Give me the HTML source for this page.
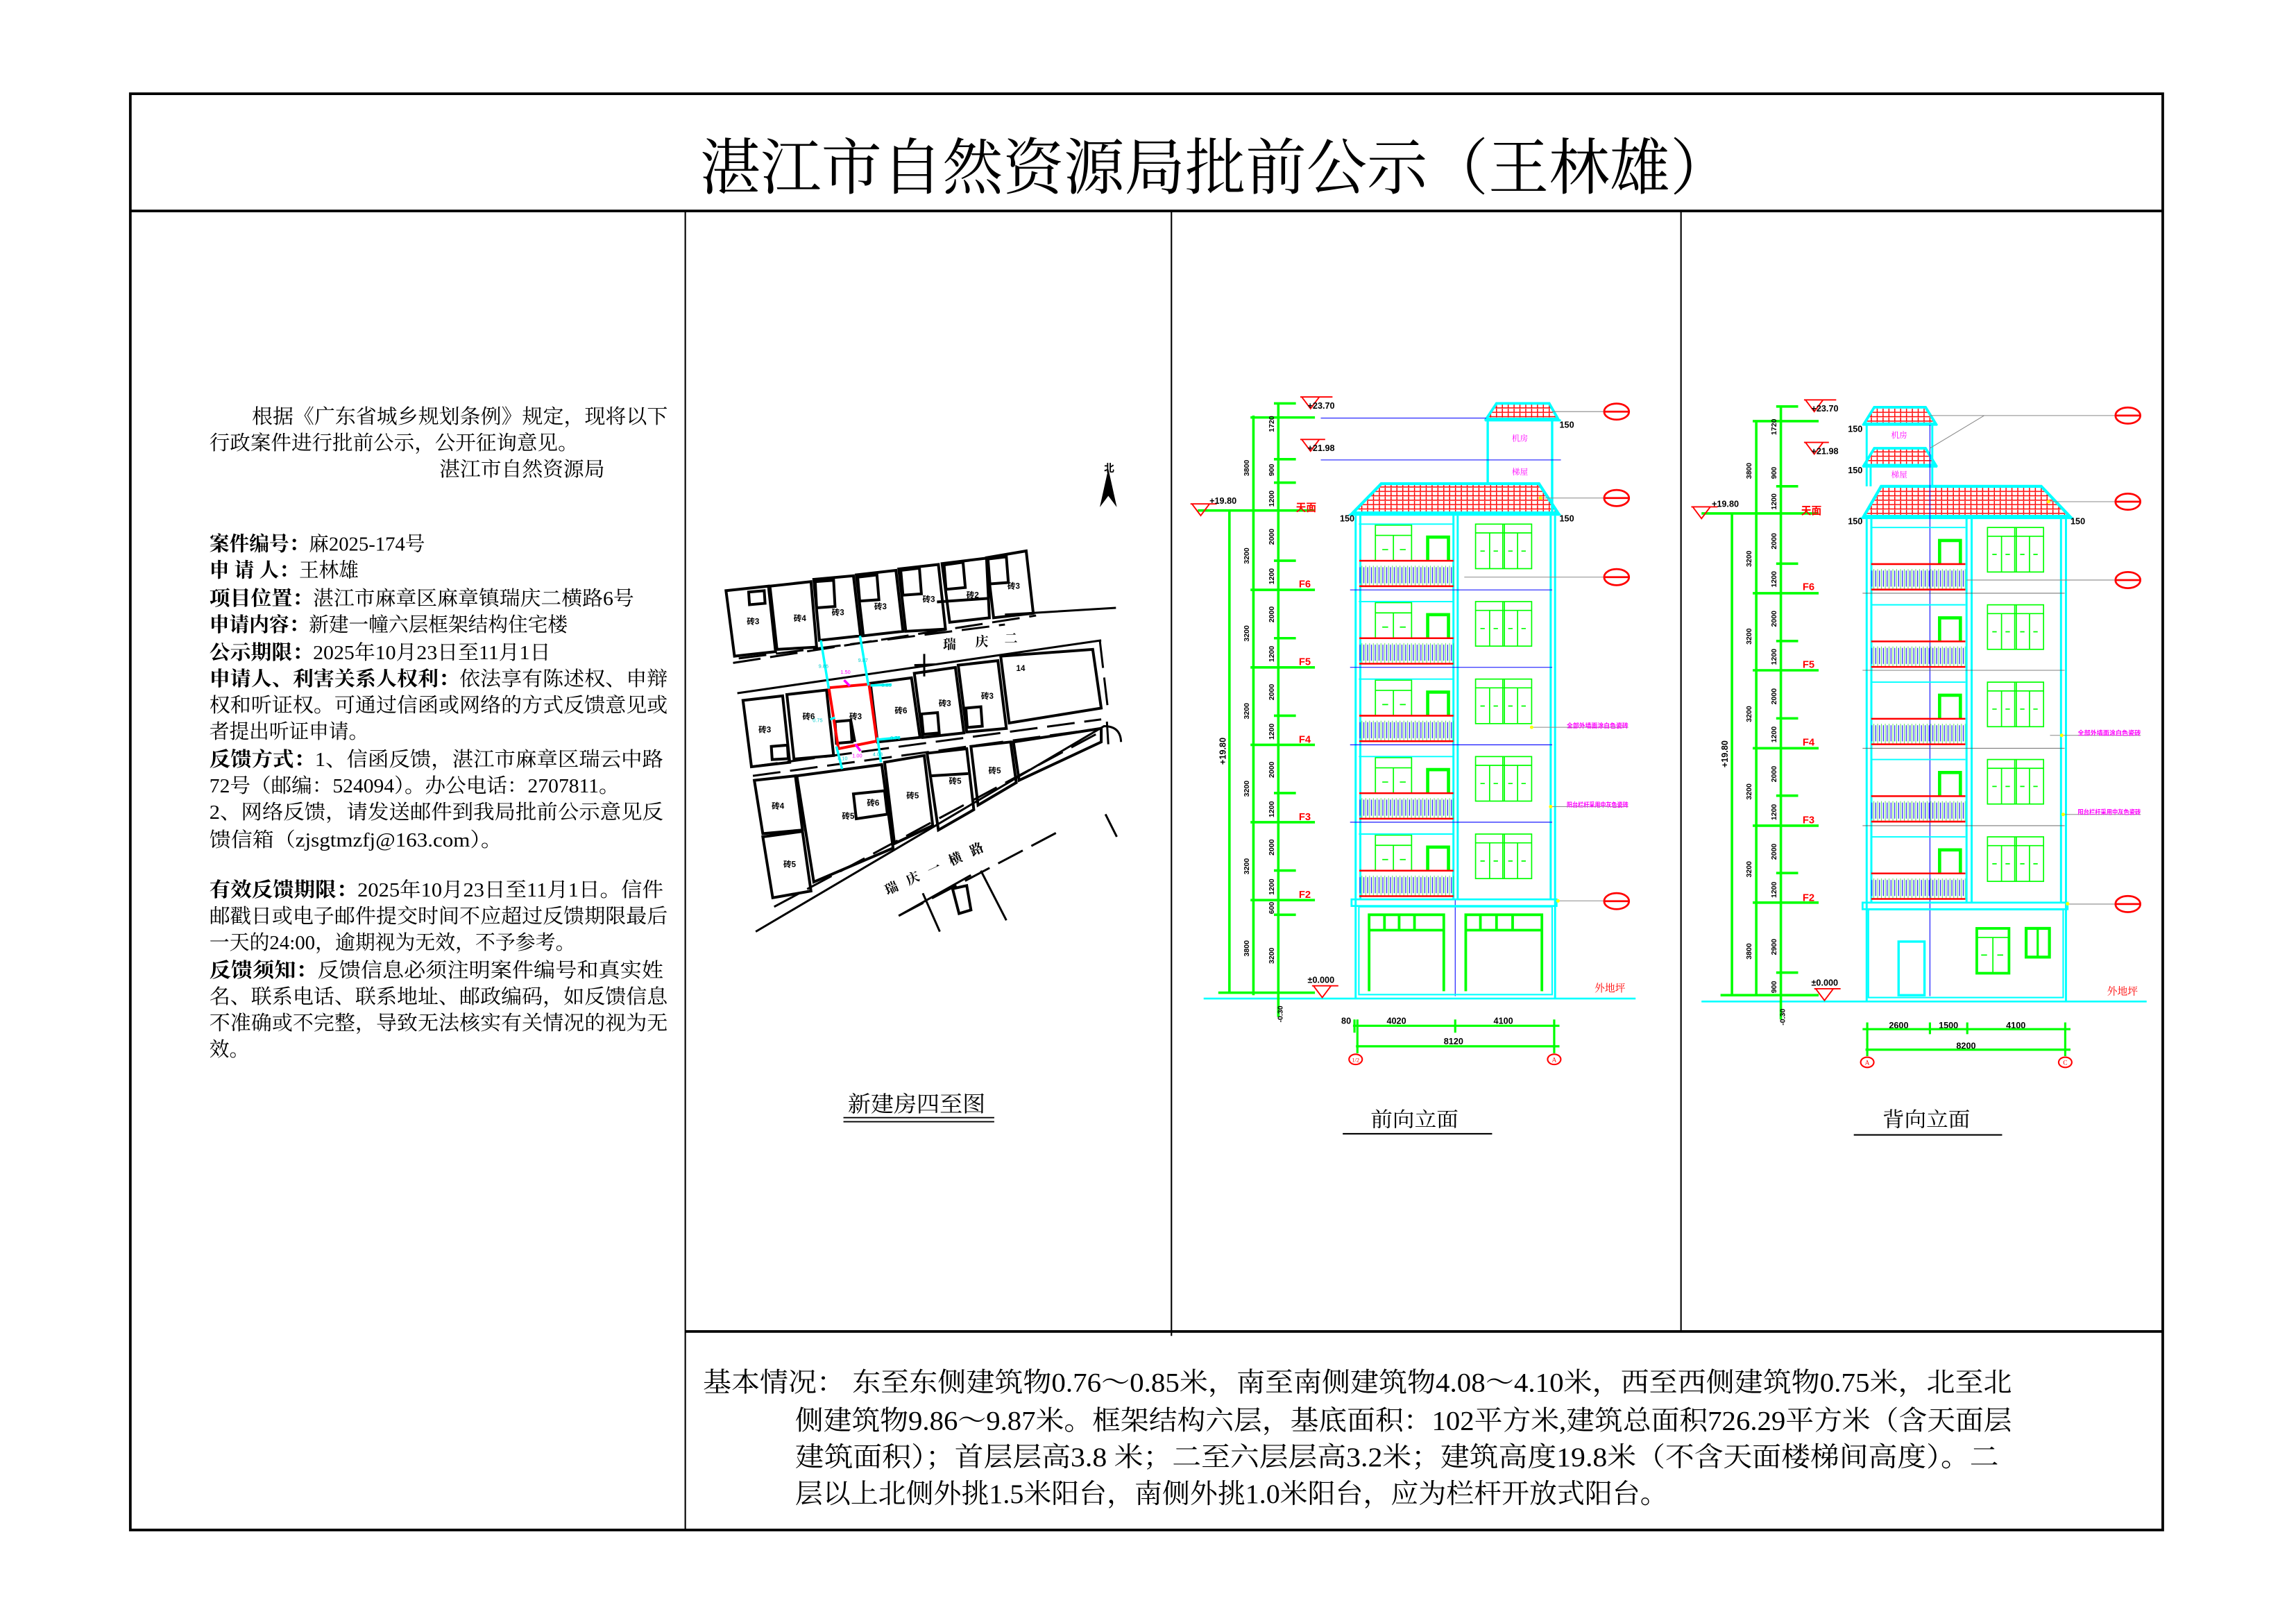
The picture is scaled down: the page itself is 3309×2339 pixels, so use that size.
<!DOCTYPE html>
<html><head><meta charset="utf-8"><style>
html,body{margin:0;padding:0;background:#fff;}
svg{display:block;}
.s{font-family:"Liberation Serif","Noto Serif CJK SC",serif;}
.a{font-family:"Liberation Sans","Noto Sans CJK SC",sans-serif;font-weight:bold;}
</style></head><body>
<svg width="3309" height="2339" viewBox="0 0 1568 1108" preserveAspectRatio="none" xmlns="http://www.w3.org/2000/svg">
<defs>
<pattern id="roof" width="4" height="3" patternUnits="userSpaceOnUse"><path d="M0 2.5H4M2 0V2.5" stroke="#f00" stroke-width="0.7" fill="none"/></pattern>
<pattern id="rail" width="2.6" height="17" patternUnits="userSpaceOnUse"><path d="M0.6 3V14" stroke="#00f" stroke-width="0.5"/><path d="M1.9 2V16" stroke="#0c0" stroke-width="0.3"/></pattern>
<g id="lw">
 <rect x="939.3" y="8.3" width="24.7" height="24.3" fill="none" stroke="#0f0" stroke-width="0.8"/>
 <path d="M939.3 15.3H964M951.6 15.3V32.6M944 25h4M956 25h4" stroke="#0f0" stroke-width="0.8" fill="none"/>
</g>
<g id="fc">
 <line x1="928" y1="7.6" x2="992.6" y2="7.6" stroke="#0ff" stroke-width="0.9"/>
 <path d="M975 32.6V16.5H989.2V32.6" stroke="#0f0" stroke-width="2.2" fill="none"/>
 <rect x="928.3" y="33" width="64.3" height="17" fill="url(#rail)"/>
 <path d="M928.3 32.6H992.6M928.3 50H992.6" stroke="#f00" stroke-width="1.2"/>
 <rect x="1007.7" y="7.6" width="38.3" height="30.4" fill="none" stroke="#0f0" stroke-width="0.8"/>
 <path d="M1007.7 13.6H1046M1017.3 13.6V38M1026.3 7.6V38M1027.4 7.6V38M1036.4 13.6V38M1011 26h3M1020 26h3M1030 26h3M1039 26h3" stroke="#0f0" stroke-width="0.8" fill="none"/>
</g>
</defs>

<!-- frame -->
<g stroke="#000" fill="none">
<rect x="89" y="64" width="1388" height="980.5" stroke-width="1.8"/>
<line x1="89" y1="144" x2="1477" y2="144" stroke-width="1.8"/>
<line x1="468" y1="144" x2="468" y2="1044.5" stroke-width="1"/>
<line x1="800" y1="144" x2="800" y2="912" stroke-width="1"/>
<line x1="1148" y1="144" x2="1148" y2="909" stroke-width="1"/>
<line x1="468" y1="909" x2="1477" y2="909" stroke-width="1.8"/>
</g>
<text class="s" x="478" y="129" font-size="42" textLength="704" lengthAdjust="spacingAndGlyphs">湛江市自然资源局批前公示（王林雄）</text>

<!-- left text -->
<g class="s" font-size="13.6" fill="#000">
<text x="172" y="289" textLength="284" lengthAdjust="spacingAndGlyphs">根据《广东省城乡规划条例》规定，现将以下</text>
<text x="143" y="307" textLength="252" lengthAdjust="spacingAndGlyphs">行政案件进行批前公示，公开征询意见。</text>
<text x="300" y="325" textLength="113" lengthAdjust="spacingAndGlyphs">湛江市自然资源局</text>
<text x="143" y="376"><tspan font-weight="bold">案件编号：</tspan>麻2025-174号</text>
<text x="143" y="394"><tspan font-weight="bold">申 请 人：</tspan>王林雄</text>
<text x="143" y="413" textLength="290" lengthAdjust="spacingAndGlyphs"><tspan font-weight="bold">项目位置：</tspan>湛江市麻章区麻章镇瑞庆二横路6号</text>
<text x="143" y="431"><tspan font-weight="bold">申请内容：</tspan>新建一幢六层框架结构住宅楼</text>
<text x="143" y="450" textLength="233" lengthAdjust="spacingAndGlyphs"><tspan font-weight="bold">公示期限：</tspan>2025年10月23日至11月1日</text>
<text x="143" y="468" textLength="313" lengthAdjust="spacingAndGlyphs"><tspan font-weight="bold">申请人、利害关系人权利：</tspan>依法享有陈述权、申辩</text>
<text x="143" y="486" textLength="313" lengthAdjust="spacingAndGlyphs">权和听证权。可通过信函或网络的方式反馈意见或</text>
<text x="143" y="504">者提出听证申请。</text>
<text x="143" y="523" textLength="310" lengthAdjust="spacingAndGlyphs"><tspan font-weight="bold">反馈方式：</tspan>1、信函反馈，湛江市麻章区瑞云中路</text>
<text x="143" y="541" textLength="280" lengthAdjust="spacingAndGlyphs">72号（邮编：524094）。办公电话：2707811。</text>
<text x="143" y="559" textLength="310" lengthAdjust="spacingAndGlyphs">2、网络反馈，请发送邮件到我局批前公示意见反</text>
<text x="143" y="578" textLength="200" lengthAdjust="spacingAndGlyphs">馈信箱（zjsgtmzfj@163.com）。</text>
<text x="143" y="612" textLength="310" lengthAdjust="spacingAndGlyphs"><tspan font-weight="bold">有效反馈期限：</tspan>2025年10月23日至11月1日。信件</text>
<text x="143" y="630" textLength="313" lengthAdjust="spacingAndGlyphs">邮戳日或电子邮件提交时间不应超过反馈期限最后</text>
<text x="143" y="648" textLength="250" lengthAdjust="spacingAndGlyphs">一天的24:00，逾期视为无效，不予参考。</text>
<text x="143" y="667" textLength="310" lengthAdjust="spacingAndGlyphs"><tspan font-weight="bold">反馈须知：</tspan>反馈信息必须注明案件编号和真实姓</text>
<text x="143" y="685" textLength="313" lengthAdjust="spacingAndGlyphs">名、联系电话、联系地址、邮政编码，如反馈信息</text>
<text x="143" y="703" textLength="313" lengthAdjust="spacingAndGlyphs">不准确或不完整，导致无法核实有关情况的视为无</text>
<text x="143" y="721">效。</text>
</g>

<!-- bottom text -->
<g class="s" font-size="18.5" fill="#000">
<text x="480" y="950" textLength="894" lengthAdjust="spacingAndGlyphs">基本情况：  东至东侧建筑物0.76～0.85米，南至南侧建筑物4.08～4.10米，西至西侧建筑物0.75米，北至北</text>
<text x="543" y="976" textLength="831" lengthAdjust="spacingAndGlyphs">侧建筑物9.86～9.87米。框架结构六层，基底面积：102平方米,建筑总面积726.29平方米（含天面层</text>
<text x="543" y="1001" textLength="822" lengthAdjust="spacingAndGlyphs">建筑面积）；首层层高3.8 米；二至六层层高3.2米；建筑高度19.8米（不含天面楼梯间高度）。二</text>
<text x="543" y="1026" textLength="596" lengthAdjust="spacingAndGlyphs">层以上北侧外挑1.5米阳台，南侧外挑1.0米阳台，应为栏杆开放式阳台。</text>
</g>

<!-- site plan -->
<g transform="translate(492.9,293.8) scale(0.1934,0.3083)" fill="none" stroke="#000" stroke-width="4">
<path vector-effect="non-scaling-stroke" d="M15 355L165 345L190 490L45 500Z M95 358L150 355L153 383L98 386Z M170 345L315 335L335 480L195 485Z M325 330L465 322L490 455L345 465Z M330 335L395 332L400 390L335 393Z M475 320L615 310L640 445L500 455Z M480 325L548 320L555 375L487 378Z M625 307L765 297L790 440L650 445Z M632 310L698 305L705 362L640 365Z M778 295L935 283L945 415L805 425Z M785 298L852 292L860 348L792 352Z M760 380L940 372 M935 282L1075 267L1100 405L960 415Z M940 285L1005 280L1012 337L947 340Z"/>
<path vector-effect="non-scaling-stroke" d="M75 598L215 588L240 735L105 745Z M175 700L232 697L235 727L178 729Z M230 585L370 575L395 720L255 728Z M525 560L670 548L700 680L550 690Z M680 538L825 525L855 670L710 680Z M705 628L762 625L768 670L712 673Z M835 520L975 510L1005 660L865 668Z M862 615L915 612L920 655L867 658Z M985 500L1310 485L1340 615L1015 648Z M400 645L455 642L460 690L405 693Z M455 640L470 690"/>
<path vector-effect="non-scaling-stroke" d="M115 775L260 765L285 885L145 893Z M145 900L285 888L315 1020L180 1035Z M265 765L565 740L605 925L325 1000Z M465 805L575 798L585 850L475 860Z M575 735L715 720L745 875L610 915Z M725 715L865 705L890 840L765 885Z M738 765L870 760 M880 700L1020 690L1040 780L905 830Z M1030 690L1340 660L1340 690L1050 775Z"/>
<path vector-effect="non-scaling-stroke" stroke-width="3" d="M1000 408L1392 393 M55 582L1340 465 M120 1110L1350 655 Q1408 655 1410 690 M710 1025L770 1110 M915 975L1005 1085 M1355 850L1395 900 M680 520L760 518 M715 495L715 545"/>
<path vector-effect="non-scaling-stroke" stroke-width="3" stroke-dasharray="40,14" d="M40 515L1110 410 M110 765L1340 660 M60 505L1000 430 M1335 465L1365 625 M1360 645L1365 695 M185 1055L1330 670 M625 1075L1200 885 M100 745L1340 640"/>
<path vector-effect="non-scaling-stroke" stroke-width="3" d="M625 1075L880 985"/>
<path vector-effect="non-scaling-stroke" d="M815 1015L865 1008L880 1062L838 1070Z"/>
<path vector-effect="non-scaling-stroke" stroke="#f00" stroke-width="4" d="M378 570L520 562L548 688L412 705Z"/>
<path vector-effect="non-scaling-stroke" stroke="#0ff" stroke-width="3.5" d="M350 465L378 572 M488 455L518 565 M405 700L425 750 M550 680L562 735 M383 640L400 636 M525 565L600 563 M548 685L630 680"/>
<path vector-effect="non-scaling-stroke" stroke="#f0f" stroke-width="3.5" d="M432 553L452 566 M472 695L490 710"/>
<path d="M1365 85L1395 170L1365 145L1335 170Z" fill="#000" stroke="none"/>
</g>
<g class="a" font-size="5.5" fill="#000">
<text x="510" y="426">砖3</text><text x="542" y="424">砖4</text><text x="568" y="420">砖3</text><text x="597" y="416">砖3</text><text x="630" y="411">砖3</text><text x="660" y="408">砖2</text><text x="688" y="402">砖3</text>
<text x="518" y="500">砖3</text><text x="548" y="491">砖6</text><text x="580" y="491">砖3</text><text x="611" y="487">砖6</text><text x="641" y="482">砖3</text><text x="670" y="477">砖3</text><text x="694" y="458">14</text>
<text x="527" y="552">砖4</text><text x="575" y="559">砖5</text><text x="592" y="550">砖6</text><text x="619" y="545">砖5</text><text x="648" y="535">砖5</text><text x="675" y="528">砖5</text><text x="535" y="592">砖5</text>
<text x="754" y="322" font-size="7">北</text>
</g>
<g class="s" font-size="9" fill="#000" font-weight="bold">
<text x="644" y="443">瑞</text><text x="666" y="441">庆</text><text x="686" y="439">二</text>
<text transform="translate(606,611) rotate(-24.6)" letter-spacing="7">瑞庆一横路</text>
</g>
<g font-family="Liberation Sans,sans-serif" font-size="3.5" fill="#0cc">
<text x="559" y="456">9.86</text><text x="586" y="452">9.87</text><text x="555" y="493">0.75</text><text x="602" y="469">0.85</text><text x="608" y="505">0.76</text><text x="572" y="519">4.10</text><text x="596" y="516">4.08</text>
</g>
<g font-family="Liberation Sans,sans-serif" font-size="3.5" fill="#f0f"><text x="574" y="460">1.50</text><text x="582" y="517">1.00</text></g>
<text class="s" x="626" y="759" font-size="15" text-anchor="middle" textLength="94" lengthAdjust="spacingAndGlyphs">新建房四至图</text>
<path d="M576 763H679M576 765.8H679" stroke="#000" stroke-width="0.9"/>

<!-- FRONT ELEVATION -->
<g>
<line x1="822" y1="681.7" x2="1117" y2="681.7" stroke="#0ff" stroke-width="1.2"/>
<path d="M923.8 350.2L943.3 330.2H1051L1064 350.2Z" fill="url(#roof)" stroke="#0ff" stroke-width="2"/>
<line x1="921" y1="351.5" x2="1066" y2="351.5" stroke="#0ff" stroke-width="1.2"/>
<path d="M1016 330V286M1060 350V286" stroke="#0ff" stroke-width="1.6" fill="none"/>
<path d="M1015 286L1022 275.4H1058L1064 286Z" fill="url(#roof)" stroke="#0ff" stroke-width="1.8"/>
<line x1="1014" y1="287" x2="1066" y2="287" stroke="#0ff" stroke-width="1.4"/>
<line x1="902" y1="285.4" x2="1015" y2="285.4" stroke="#00f" stroke-width="0.5"/>
<line x1="902" y1="314" x2="1066" y2="314" stroke="#00f" stroke-width="0.5"/>
<text x="1038" y="301" font-size="5.5" fill="#f0f" text-anchor="middle" class="s">机房</text>
<text x="1038" y="324" font-size="5.5" fill="#f0f" text-anchor="middle" class="s">梯屋</text>
<path d="M925.8 352V681.7M929 352V614M1062 352V681.7M1059 352V614M992.6 352V614M995.5 352V614" stroke="#0ff" stroke-width="1.4" fill="none"/>
<line x1="993.8" y1="614" x2="993.8" y2="680" stroke="#00f" stroke-width="0.5"/>
<g transform="translate(0,350.2)"><use href="#lw"/><use href="#fc"/></g>
<g transform="translate(0,403.1)"><use href="#lw"/><use href="#fc"/></g>
<g transform="translate(0,456)"><use href="#lw"/><use href="#fc"/></g>
<g transform="translate(0,508.9)"><use href="#lw"/><use href="#fc"/></g>
<g transform="translate(0,561.8)"><use href="#lw"/><use href="#fc"/></g>
<path d="M922 402.7H1060M922 455.6H1060M922 508.5H1060M922 561.3H1060" stroke="#00f" stroke-width="0.5"/>
<rect x="923" y="614" width="140" height="4.5" fill="none" stroke="#0ff" stroke-width="1.3"/>
<rect x="928" y="619" width="132" height="60" fill="none" stroke="#0ff" stroke-width="1"/>
<path d="M935 676.7V624.5H986V676.7M935 635H986M945.5 624.5V635M955.5 624.5V635M966 624.5V635" stroke="#0f0" stroke-width="1.8" fill="none"/>
<path d="M1001 676.7V624.5H1053V676.7M1001 635H1053M1011 624.5V635M1022 624.5V635M1033 624.5V635" stroke="#0f0" stroke-width="1.8" fill="none"/>
<g stroke="#0f0" stroke-width="1.7" fill="none">
<path d="M839.6 348.5V677.7M856 283.7V679.4M873 275.4V694.3"/>
<path d="M818 348.5H898M854 285H898M854 402.7H898M854 455.6H898M854 508.5H898M854 561.3H898M854 614.5H898M832 677.7H898"/>
<path d="M870 275.4H885M870 313.5H885M870 329.5H885M870 382.8H885M870 435.7H885M870 488.6H885M870 541.4H885M870 594.3H885M870 624.5H885"/>
</g>
<g stroke="#f00" stroke-width="0.9" fill="none">
<path d="M888 271H910M889 271L895 279L901 271M888 300H905M889 300L895 308L901 300M813 344H831M814 344L820 352L826 344M896 673H914M897 673L903 681L909 673"/>
</g>
<g class="a" font-size="6" fill="#000">
<text x="893" y="279">+23.70</text><text x="893" y="308">+21.98</text><text x="826" y="344">+19.80</text><text x="893" y="671">±0.000</text><text x="915" y="356">150</text><text x="1065" y="356">150</text><text x="1065" y="292">150</text>
<text x="916" y="699">80</text><text x="947" y="699">4020</text><text x="1020" y="699">4100</text><text x="986" y="713">8120</text>
</g>
<g class="a" font-size="5" fill="#000">
<text transform="translate(870,295) rotate(-90)">1720</text><text transform="translate(870,325) rotate(-90)">900</text><text transform="translate(870,346) rotate(-90)">1200</text>
<text transform="translate(870,372) rotate(-90)">2000</text><text transform="translate(870,399) rotate(-90)">1200</text>
<text transform="translate(870,425) rotate(-90)">2000</text><text transform="translate(870,452) rotate(-90)">1200</text>
<text transform="translate(870,478) rotate(-90)">2000</text><text transform="translate(870,505) rotate(-90)">1200</text>
<text transform="translate(870,531) rotate(-90)">2000</text><text transform="translate(870,558) rotate(-90)">1200</text>
<text transform="translate(870,584) rotate(-90)">2000</text><text transform="translate(870,611) rotate(-90)">1200</text><text transform="translate(870,624) rotate(-90)">600</text>
<text transform="translate(870,658) rotate(-90)">3200</text><text transform="translate(876,698) rotate(-90)">-0.30</text>
<text transform="translate(853,325) rotate(-90)">3800</text><text transform="translate(853,385) rotate(-90)">3200</text><text transform="translate(853,438) rotate(-90)">3200</text><text transform="translate(853,491) rotate(-90)">3200</text><text transform="translate(853,544) rotate(-90)">3200</text><text transform="translate(853,597) rotate(-90)">3200</text><text transform="translate(853,653) rotate(-90)">3800</text>
<text transform="translate(837,522) rotate(-90)" font-size="6">+19.80</text>
</g>
<g class="a" font-size="7" fill="#f00">
<text x="885" y="349">天面</text><text x="887" y="401">F6</text><text x="887" y="454">F5</text><text x="887" y="507">F4</text><text x="887" y="560">F3</text><text x="887" y="613">F2</text>
</g>
<text x="1089" y="677" font-size="7" fill="#f00" class="s">外地坪</text>
<g stroke="#0f0" stroke-width="1.5"><path d="M924 700.3H1065M926 714.3H1065M927 696V719M993.8 696V705M1061.4 696V719M925 696V705"/></g>
<g fill="none" stroke="#f00" stroke-width="1"><ellipse cx="925.8" cy="723.2" rx="4.5" ry="3.5"/><ellipse cx="1061.4" cy="723.2" rx="4.5" ry="3.5"/></g>
<text x="925.8" y="725" font-size="4" fill="#f00" text-anchor="middle">1/2</text><text x="1061.4" y="725" font-size="4.5" fill="#f00" text-anchor="middle">A</text>
<g stroke="#888" stroke-width="0.5"><path d="M1060 281H1095M1050 340H1095M1000 394H1095M1064 615H1095M1046 496.5H1112M1060 550.7H1112"/></g>
<g fill="none" stroke="#f00" stroke-width="1.3">
<ellipse cx="1104" cy="281" rx="8.5" ry="5.5"/><ellipse cx="1104" cy="340" rx="8.5" ry="5.5"/><ellipse cx="1104" cy="394" rx="8.5" ry="5.5"/><ellipse cx="1104" cy="615.2" rx="8.5" ry="5.5"/>
<path d="M1095.5 281H1112.5M1095.5 340H1112.5M1095.5 394H1112.5M1095.5 615.2H1112.5"/>
</g>
<g fill="#ff0"><circle cx="1046" cy="496.5" r="1.2"/><circle cx="1059" cy="550.7" r="1.2"/><circle cx="1064" cy="615" r="1.2"/><circle cx="1052" cy="340" r="1.2"/></g>
<g class="a" font-size="4.3" fill="#f0f"><text x="1070" y="497" textLength="42" lengthAdjust="spacingAndGlyphs">全部外墙面涂白色瓷砖</text><text x="1070" y="551" textLength="42" lengthAdjust="spacingAndGlyphs">阳台栏杆采用中灰色瓷砖</text></g>
<text class="s" x="966" y="769" font-size="14" text-anchor="middle" textLength="60" lengthAdjust="spacingAndGlyphs">前向立面</text>
<line x1="917" y1="774" x2="1019" y2="774" stroke="#000" stroke-width="1"/>
</g>

<!-- BACK ELEVATION -->
<g>
<line x1="1162" y1="683.7" x2="1466" y2="683.7" stroke="#0ff" stroke-width="1.2"/>
<path d="M1272.8 352.5L1284.7 332H1394L1413.5 352.5Z" fill="url(#roof)" stroke="#0ff" stroke-width="2"/>
<line x1="1270" y1="353.8" x2="1416" y2="353.8" stroke="#0ff" stroke-width="1.2"/>
<path d="M1274.8 289V332M1319.6 289V332M1277.5 317.6V332" stroke="#0ff" stroke-width="1.4" fill="none"/>
<path d="M1273 289.3L1280 278H1315L1322 289.3Z" fill="url(#roof)" stroke="#0ff" stroke-width="1.8"/>
<line x1="1272" y1="290" x2="1323" y2="290" stroke="#0ff" stroke-width="1.4"/>
<path d="M1273 317.6L1280 306H1315L1322 317.6Z" fill="url(#roof)" stroke="#0ff" stroke-width="1.8"/>
<line x1="1272" y1="318.5" x2="1323" y2="318.5" stroke="#0ff" stroke-width="1.4"/>
<text x="1297" y="299" font-size="5.5" fill="#f0f" text-anchor="middle" class="s">机房</text>
<text x="1297" y="326" font-size="5.5" fill="#f0f" text-anchor="middle" class="s">梯屋</text>
<path d="M1274.8 354V683.7M1278 354V616M1410.9 354V683.7M1407.5 354V616M1343 354V616M1346.5 354V616" stroke="#0ff" stroke-width="1.4" fill="none"/>
<line x1="1318" y1="290" x2="1318" y2="680" stroke="#00f" stroke-width="0.5"/>
<g transform="translate(349.6,352.5)"><use href="#fc"/></g>
<g transform="translate(349.6,405.3)"><use href="#fc"/></g>
<g transform="translate(349.6,458.1)"><use href="#fc"/></g>
<g transform="translate(349.6,510.9)"><use href="#fc"/></g>
<g transform="translate(349.6,563.7)"><use href="#fc"/></g>
<path d="M1272 405H1410M1272 457.6H1410M1272 510.8H1410M1272 563.7H1410" stroke="#555" stroke-width="0.4"/>
<rect x="1272" y="616.2" width="140" height="4.5" fill="none" stroke="#0ff" stroke-width="1.3"/>
<rect x="1276" y="621" width="133" height="60" fill="none" stroke="#0ff" stroke-width="1"/>
<rect x="1296.6" y="642.8" width="17.7" height="36.6" fill="none" stroke="#0ff" stroke-width="1.6"/>
<rect x="1350" y="633.8" width="22" height="30.6" fill="none" stroke="#0f0" stroke-width="1.8"/>
<path d="M1350 640H1372M1361 640V664.4M1353 652h4M1364 652h4" stroke="#0f0" stroke-width="0.8"/>
<rect x="1383.7" y="633.8" width="15.9" height="19.6" fill="none" stroke="#0f0" stroke-width="2"/>
<line x1="1391.6" y1="633.8" x2="1391.6" y2="653.4" stroke="#0f0" stroke-width="1.5"/>
<g stroke="#0f0" stroke-width="1.7" fill="none">
<path d="M1182.8 350.5V679.4M1199.4 287V679.4M1216.2 277.5V696"/>
<path d="M1162 350.5H1242M1197 287.5H1242M1197 405H1242M1197 457.6H1242M1197 510.8H1242M1197 563.7H1242M1197 616.2H1242M1175 679.4H1242"/>
<path d="M1213 277.5H1228M1213 332H1228M1213 384.8H1228M1213 437.6H1228M1213 490.4H1228M1213 543.2H1228M1213 596H1228M1213 664H1228"/>
</g>
<g stroke="#f00" stroke-width="0.9" fill="none">
<path d="M1232 273H1254M1233 273L1239 281L1245 273M1232 302H1249M1233 302L1239 310L1245 302M1155 346H1173M1156 346L1162 354L1168 346M1239 675H1257M1240 675L1246 683L1252 675"/>
</g>
<g class="a" font-size="6" fill="#000">
<text x="1237" y="281">+23.70</text><text x="1237" y="310">+21.98</text><text x="1169" y="346">+19.80</text><text x="1237" y="673">±0.000</text><text x="1262" y="295">150</text><text x="1262" y="323">150</text><text x="1262" y="358">150</text><text x="1414" y="358">150</text>
<text x="1290" y="702">2600</text><text x="1324" y="702">1500</text><text x="1370" y="702">4100</text><text x="1336" y="716">8200</text>
</g>
<g class="a" font-size="5" fill="#000">
<text transform="translate(1213,297) rotate(-90)">1720</text><text transform="translate(1213,327) rotate(-90)">900</text><text transform="translate(1213,348) rotate(-90)">1200</text>
<text transform="translate(1213,375) rotate(-90)">2000</text><text transform="translate(1213,401) rotate(-90)">1200</text>
<text transform="translate(1213,428) rotate(-90)">2000</text><text transform="translate(1213,454) rotate(-90)">1200</text>
<text transform="translate(1213,481) rotate(-90)">2000</text><text transform="translate(1213,507) rotate(-90)">1200</text>
<text transform="translate(1213,534) rotate(-90)">2000</text><text transform="translate(1213,560) rotate(-90)">1200</text>
<text transform="translate(1213,587) rotate(-90)">2000</text><text transform="translate(1213,613) rotate(-90)">1200</text>
<text transform="translate(1213,652) rotate(-90)">2900</text><text transform="translate(1213,678) rotate(-90)">900</text><text transform="translate(1219,700) rotate(-90)">-0.30</text>
<text transform="translate(1196,327) rotate(-90)">3800</text><text transform="translate(1196,387) rotate(-90)">3200</text><text transform="translate(1196,440) rotate(-90)">3200</text><text transform="translate(1196,493) rotate(-90)">3200</text><text transform="translate(1196,546) rotate(-90)">3200</text><text transform="translate(1196,599) rotate(-90)">3200</text><text transform="translate(1196,655) rotate(-90)">3800</text>
<text transform="translate(1180,524) rotate(-90)" font-size="6">+19.80</text>
</g>
<g class="a" font-size="7" fill="#f00">
<text x="1230" y="351">天面</text><text x="1231" y="403">F6</text><text x="1231" y="456">F5</text><text x="1231" y="509">F4</text><text x="1231" y="562">F3</text><text x="1231" y="615">F2</text>
</g>
<text x="1439" y="679" font-size="7" fill="#f00" class="s">外地坪</text>
<g stroke="#0f0" stroke-width="1.5"><path d="M1272 702.6H1414M1274 716.6H1414M1275.2 698V721M1318 698V706M1343.5 698V706M1410.4 698V721"/></g>
<g fill="none" stroke="#f00" stroke-width="1"><ellipse cx="1275.2" cy="725.2" rx="4.5" ry="3.5"/><ellipse cx="1410.4" cy="725.2" rx="4.5" ry="3.5"/></g>
<text x="1275.2" y="727" font-size="4.5" fill="#f00" text-anchor="middle">A</text><text x="1410.4" y="727" font-size="4.5" fill="#f00" text-anchor="middle">C</text>
<g stroke="#888" stroke-width="0.5"><path d="M1318 283.7H1445M1318 306L1355 283.7M1400 342.5H1445M1343 396H1445M1412 617.2H1445M1400 502H1462M1408 556H1462"/></g>
<g fill="none" stroke="#f00" stroke-width="1.3">
<ellipse cx="1453.2" cy="283.7" rx="8.5" ry="5.5"/><ellipse cx="1453.2" cy="342.5" rx="8.5" ry="5.5"/><ellipse cx="1453.2" cy="396" rx="8.5" ry="5.5"/><ellipse cx="1453.2" cy="617.2" rx="8.5" ry="5.5"/>
<path d="M1444.7 283.7H1461.7M1444.7 342.5H1461.7M1444.7 396H1461.7M1444.7 617.2H1461.7"/>
</g>
<g fill="#ff0"><circle cx="1408" cy="502" r="1.2"/><circle cx="1409" cy="556" r="1.2"/><circle cx="1412" cy="617" r="1.2"/><circle cx="1399" cy="342.5" r="1.2"/></g>
<g class="a" font-size="4.3" fill="#f0f"><text x="1419" y="502" textLength="43" lengthAdjust="spacingAndGlyphs">全部外墙面涂白色瓷砖</text><text x="1419" y="556" textLength="43" lengthAdjust="spacingAndGlyphs">阳台栏杆采用中灰色瓷砖</text></g>
<text class="s" x="1315.5" y="769" font-size="14" text-anchor="middle" textLength="60" lengthAdjust="spacingAndGlyphs">背向立面</text>
<line x1="1266" y1="774.8" x2="1367.3" y2="774.8" stroke="#000" stroke-width="1"/>
</g>
</svg>
</body></html>
